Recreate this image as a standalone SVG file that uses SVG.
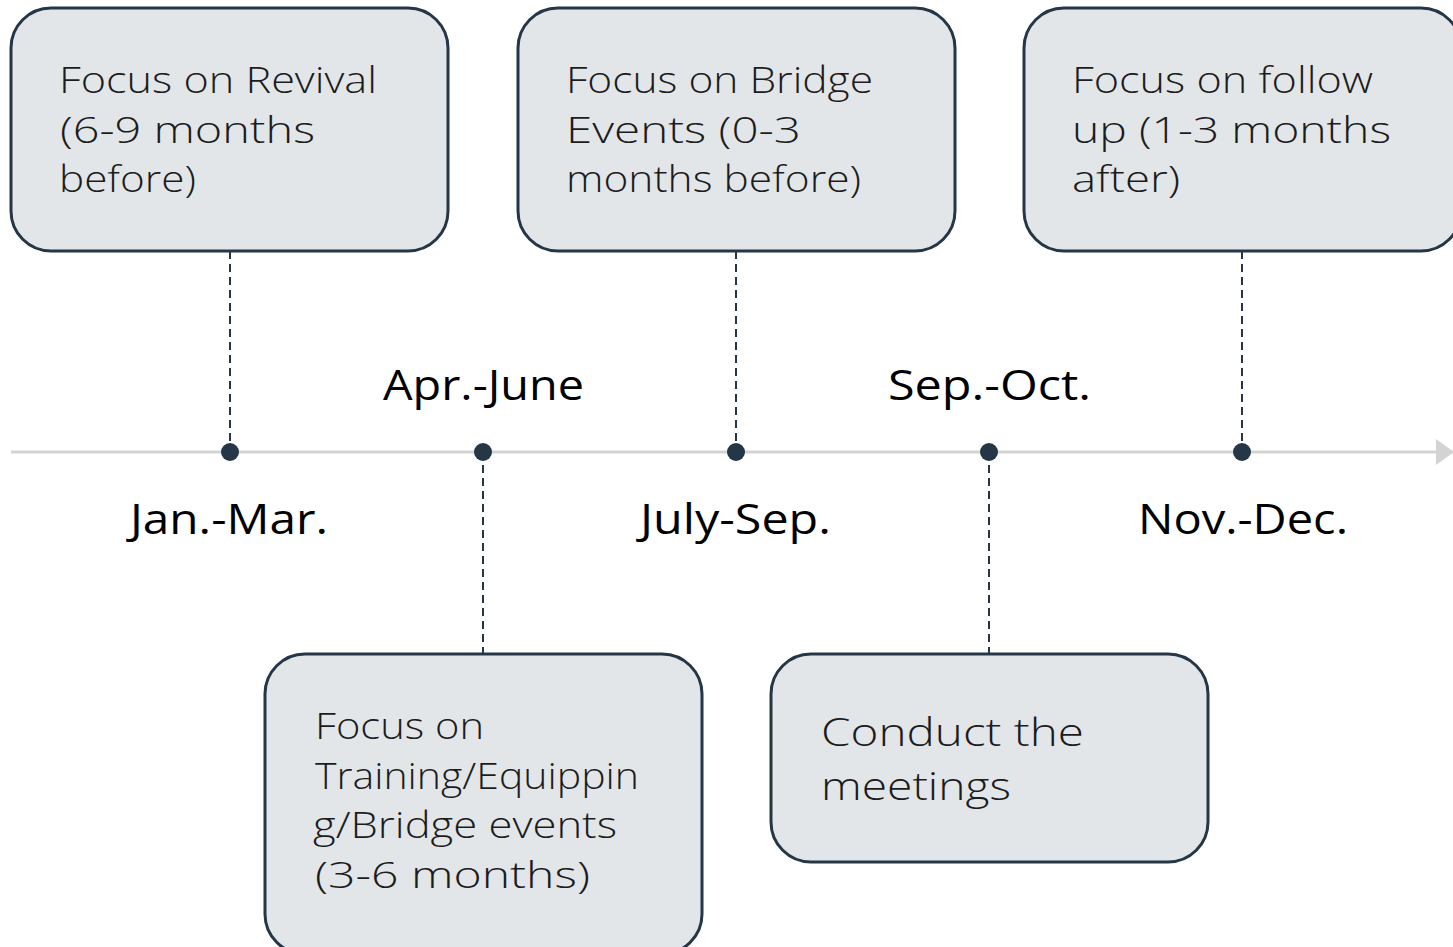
<svg xmlns="http://www.w3.org/2000/svg" width="1453" height="947" viewBox="0 0 1453 947">
<style>
.box{fill:#e3e6e9;stroke:#253746;stroke-width:3}
.bt{font-family:"Open Sans","Noto Sans",sans-serif;font-weight:300;font-size:36px;fill:#1c1c1c}
.bm{font-size:39px}
.lb{font-family:"Open Sans","Noto Sans",sans-serif;font-weight:400;font-size:42px;fill:#000}
.dash{stroke:#253746;stroke-width:2;stroke-dasharray:8,5;fill:none}
.dot{fill:#253746}
</style>
<defs>
<marker id="ah" markerWidth="18" markerHeight="26" refX="17" refY="13" orient="auto" markerUnits="userSpaceOnUse">
<path d="M0,0 L18,13 L0,26 Z" fill="#d3d3d3"/>
</marker>
</defs>
<rect width="1453" height="947" fill="#fff"/>
<g id="connectors">
<line x1="11" y1="452" x2="1453" y2="452" stroke="#d3d3d3" stroke-width="3" marker-end="url(#ah)"/>
<line class="dash" x1="230" y1="251" x2="230" y2="452"/>
<line class="dash" x1="483" y1="452" x2="483" y2="654"/>
<line class="dash" x1="736" y1="251" x2="736" y2="452"/>
<line class="dash" x1="989" y1="452" x2="989" y2="654"/>
<line class="dash" x1="1242" y1="251" x2="1242" y2="452"/>
<circle class="dot" cx="230" cy="452" r="9"/>
<circle class="dot" cx="483" cy="452" r="9"/>
<circle class="dot" cx="736" cy="452" r="9"/>
<circle class="dot" cx="989" cy="452" r="9"/>
<circle class="dot" cx="1242" cy="452" r="9"/>
</g>
<g id="labels">
<text class="lb" x="383" y="400" textLength="201" lengthAdjust="spacingAndGlyphs">Apr.-June</text>
<text class="lb" x="888" y="400" textLength="203" lengthAdjust="spacingAndGlyphs">Sep.-Oct.</text>
<text class="lb" x="130" y="534" textLength="198" lengthAdjust="spacingAndGlyphs">Jan.-Mar.</text>
<text class="lb" x="640" y="534" textLength="191" lengthAdjust="spacingAndGlyphs">July-Sep.</text>
<text class="lb" x="1138" y="534" textLength="210" lengthAdjust="spacingAndGlyphs">Nov.-Dec.</text>
</g>
<g id="node-revival">
<rect class="box" x="11" y="8" width="437" height="243" rx="40"/>
<text class="bt" x="59" y="93" textLength="318" lengthAdjust="spacingAndGlyphs">Focus on Revival</text>
<text class="bt" x="60" y="143" textLength="255" lengthAdjust="spacingAndGlyphs">(6-9 months</text>
<text class="bt" x="59" y="192" textLength="137" lengthAdjust="spacingAndGlyphs">before)</text>
</g>
<g id="node-bridge">
<rect class="box" x="518" y="8" width="437" height="243" rx="40"/>
<text class="bt" x="566" y="93" textLength="307" lengthAdjust="spacingAndGlyphs">Focus on Bridge</text>
<text class="bt" x="566" y="143" textLength="235" lengthAdjust="spacingAndGlyphs">Events (0-3</text>
<text class="bt" x="566" y="192" textLength="295" lengthAdjust="spacingAndGlyphs">months before)</text>
</g>
<g id="node-followup">
<rect class="box" x="1024" y="8" width="437" height="243" rx="40"/>
<text class="bt" x="1072" y="93" textLength="301" lengthAdjust="spacingAndGlyphs">Focus on follow</text>
<text class="bt" x="1072" y="143" textLength="319" lengthAdjust="spacingAndGlyphs">up (1-3 months</text>
<text class="bt" x="1072" y="192" textLength="108" lengthAdjust="spacingAndGlyphs">after)</text>
</g>
<g id="node-training">
<rect class="box" x="265" y="654" width="437" height="300" rx="40"/>
<text class="bt" x="315" y="739" textLength="169" lengthAdjust="spacingAndGlyphs">Focus on</text>
<text class="bt" x="315" y="789" textLength="324" lengthAdjust="spacingAndGlyphs">Training/Equippin</text>
<text class="bt" x="313" y="838" textLength="304" lengthAdjust="spacingAndGlyphs">g/Bridge events</text>
<text class="bt" x="315" y="888" textLength="275" lengthAdjust="spacingAndGlyphs">(3-6 months)</text>
</g>
<g id="node-meetings">
<rect class="box" x="771" y="654" width="437" height="208" rx="40"/>
<text class="bt bm" x="821" y="746" textLength="263" lengthAdjust="spacingAndGlyphs">Conduct the</text>
<text class="bt bm" x="821" y="800" textLength="190" lengthAdjust="spacingAndGlyphs">meetings</text>
</g>
</svg>
